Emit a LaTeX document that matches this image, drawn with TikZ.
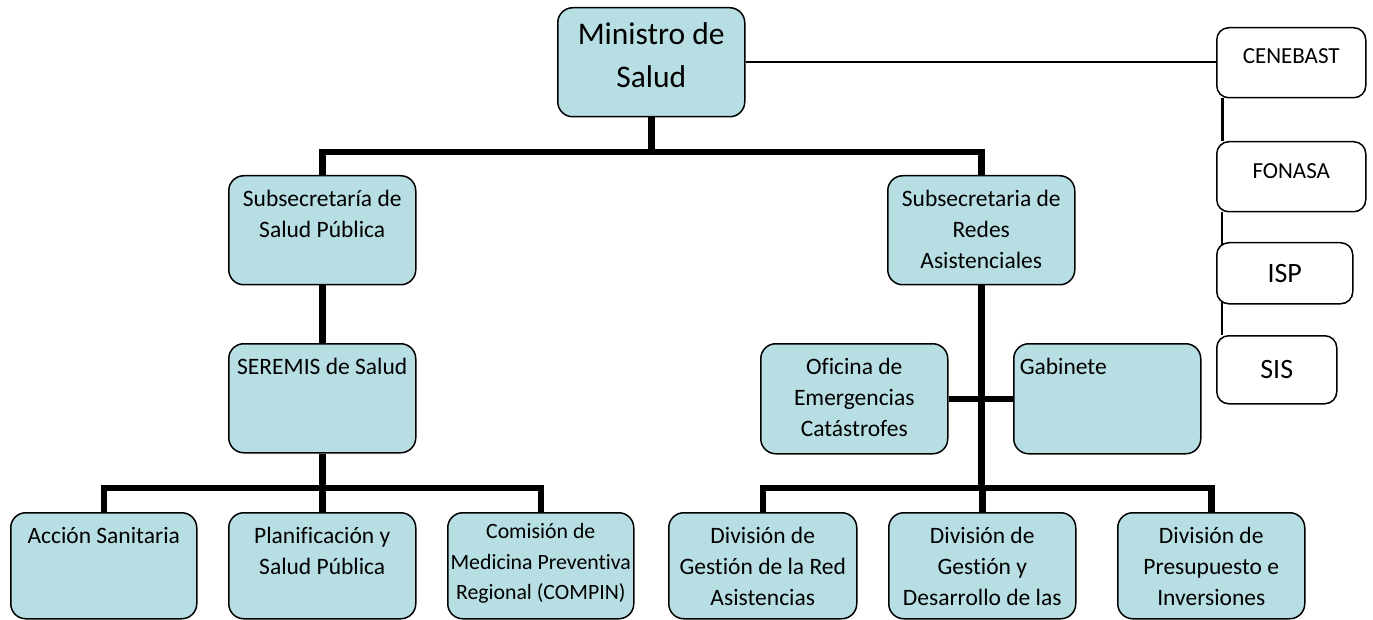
\documentclass[tikz,border=0pt]{standalone}
\usepackage{fontspec}
\setmainfont{Carlito}[Ligatures=NoCommon]
\usetikzlibrary{backgrounds}
\definecolor{boxfill}{RGB}{183,222,226}
\newcommand{\nbox}[6]{\parbox[t][#2pt][t]{#1pt}{\fontsize{#4pt}{#5pt}\selectfont\centering\rule{0pt}{#3pt}#6}}
\tikzset{
  orgbox/.style={draw=black, line width=1.5pt, rounded corners=15pt, fill=boxfill, anchor=north west, inner sep=0pt},
  sidebox/.style={orgbox, fill=white, rounded corners=12pt},
  conn/.style={line width=6.5pt, line join=miter, draw=black},
  thinconn/.style={line width=2pt, draw=black}
}
\begin{document}
\begin{tikzpicture}[x=1pt,y=1pt]
\useasboundingbox (0,0) rectangle (1373,-620);
% top
\node[orgbox] (min) at (557,-7) {\nbox{187}{109}{37}{31.5}{43}{Ministro de\\Salud}};
% side column
\node[sidebox] (cen) at (1216,-27) {\nbox{149}{70}{36}{23}{29}{CENEBAST}};
\node[sidebox] (fon) at (1216,-141) {\nbox{149}{70}{37}{23}{29}{FONASA}};
\node[sidebox] (isp) at (1216,-242) {\nbox{136}{61}{40}{28}{32}{ISP}};
\node[sidebox] (sis) at (1216,-335) {\nbox{120}{68}{43}{28}{32}{SIS}};
% second level
\node[orgbox] (sub1) at (228,-175) {\nbox{187}{109}{31}{23.5}{31}{Subsecretaría de\\Salud Pública}};
\node[orgbox] (sub2) at (887,-175) {\nbox{187}{109}{31}{23.5}{31}{Subsecretaria de\\Redes\\Asistenciales}};
% third level
\node[orgbox] (ser) at (228,-343) {\nbox{187}{109}{31}{23.5}{31}{SEREMIS de Salud}};
\node[orgbox] (ofi) at (760,-343) {\nbox{187}{110}{31}{23.5}{31}{Oficina de\\Emergencias\\Catástrofes}};
\node[orgbox] (gab) at (1013,-343) {\nbox{187}{110}{31}{23.5}{31}{\raggedright\hspace*{6pt}Gabinete}};
% bottom row
\node[orgbox] (acc) at (10,-512) {\nbox{186}{106}{31}{23.5}{31}{Acción Sanitaria}};
\node[orgbox] (pla) at (228,-512) {\nbox{187}{106}{31}{23.5}{31}{Planificación y\\Salud Pública}};
\node[orgbox] (com) at (447,-512) {\nbox{186}{106}{26}{21.8}{30.5}{Comisión de\\Medicina Preventiva\\Regional (COMPIN)}};
\node[orgbox] (dv1) at (668,-512) {\nbox{188}{106}{31}{23.5}{31}{División de\\Gestión de la Red\\Asistencias}};
\node[orgbox] (dv2) at (888,-512) {\nbox{187}{106}{31}{23.5}{31}{División de\\Gestión y\\Desarrollo de las}};
\node[orgbox] (dv3) at (1117,-512) {\nbox{187}{106}{31}{23.5}{31}{División de\\Presupuesto e\\Inversiones}};
% junction points
\coordinate (j1) at (min.south |- 0,-152);
\coordinate (j2) at (ser.south |- 0,-488);
\coordinate (j3) at (sub2.south |- 0,-488);
\begin{scope}[on background layer]
\draw[conn] (min.south) -- (j1);
\draw[conn] (sub1.north) |- (j1) -| (sub2.north);
\draw[conn] (sub1.south) -- (ser.north);
\draw[conn] (ser.south) -- (j2);
\draw[conn] (acc.north) |- (j2) -| (com.north);
\draw[conn] (pla.north) -- (pla.north |- j2);
\draw[conn] (sub2.south) -- (j3);
\draw[conn] (dv1.north) |- (j3) -| (dv3.north);
\draw[conn] (dv2.north) -- (dv2.north |- j3);
\draw[conn] (ofi.east) -- (gab.west);
\draw[thinconn] (min.east) -- (min.east -| cen.west);
\draw[line width=3pt] ([xshift=6pt]cen.south west) -- ([xshift=6pt]fon.north west);
\draw[line width=2pt] ([xshift=6pt]fon.south west) -- ([xshift=6pt]sis.north west);
\end{scope}
\end{tikzpicture}
\end{document}
